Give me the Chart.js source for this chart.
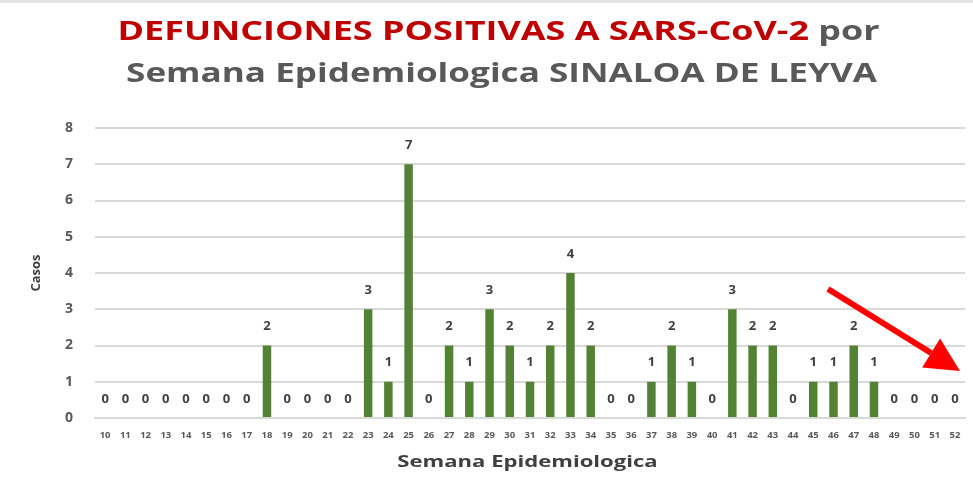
<!DOCTYPE html>
<html>
<head>
<meta charset="utf-8">
<script src="https://cdn.jsdelivr.net/npm/chart.js@4/dist/chart.umd.min.js"></script>
<style>
  html, body { margin: 0; padding: 0; background: #fff; }
  #wrap { position: relative; width: 973px; height: 483px; overflow: hidden; }
  #topline { position: absolute; left: 0; top: 0; width: 973px; height: 3px; background: #e3e3e3; }
  .titulo { position: absolute; width: 973px; text-align: center; font-family: "Open Sans", sans-serif; font-weight: 700; font-size: 27px; color: #595959; white-space: nowrap; transform-origin: 50% 0; }
  #t1 { top: 11px; left: 12px; transform: scaleX(1.33); }
  #t2 { top: 53px; left: 15px; transform: scaleX(1.30); }
  .rojo { color: #c00000; }
  #ejeX { position: absolute; left: 41px; top: 450px; width: 973px; text-align: center; font-family: "Open Sans", sans-serif; font-weight: 700; font-size: 16px; color: #404040; transform: scaleX(1.38); transform-origin: 50% 0; }
  canvas { position: absolute; left: 0; top: 0; }
</style>
</head>
<body>
<div id="wrap">
  <div id="topline"></div>
  <canvas id="casosChart" width="973" height="483"></canvas>
  <div class="titulo" id="t1"><span class="rojo">DEFUNCIONES POSITIVAS A SARS-CoV-2</span> por</div>
  <div class="titulo" id="t2">Semana Epidemiologica SINALOA DE LEYVA</div>
  <div id="ejeX">Semana Epidemiologica</div>
</div>
<script>
// Datos
const semanas = [10, 11, 12, 13, 14, 15, 16, 17, 18, 19, 20, 21, 22, 23, 24, 25, 26, 27, 28, 29, 30,
  31, 32, 33, 34, 35, 36, 37, 38, 39, 40, 41, 42, 43, 44, 45, 46, 47, 48, 49, 50, 51, 52];
const defunciones = [0, 0, 0, 0, 0, 0, 0, 0, 2, 0, 0, 0, 0, 3, 1, 7, 0, 2, 1, 3, 2,
  1, 2, 4, 2, 0, 0, 1, 2, 1, 0, 3, 2, 2, 0, 1, 1, 2, 1, 0, 0, 0, 0];
const ticksY = [0, 1, 2, 3, 4, 5, 6, 7, 8];

// etiquetas de valor encima de cada barra
const etiquetas = {
  id: "etiquetas",
  afterDatasetsDraw(chart) {
    const ctx = chart.ctx;
    const meta = chart.getDatasetMeta(0);
    ctx.save();
    ctx.font = "bold 13px 'Open Sans', sans-serif";
    ctx.fillStyle = "#404040";
    ctx.textAlign = "center";
    ctx.textBaseline = "middle";
    meta.data.forEach((bar, i) => {
      ctx.fillText(String(defunciones[i]), bar.x, bar.y - 19);
    });
    ctx.restore();
  }
};

// flecha roja
const flecha = {
  id: "flecha",
  afterDraw(chart) {
    const ctx = chart.ctx;
    const x1 = 828, y1 = 289, x2 = 960, y2 = 371;
    const ang = Math.atan2(y2 - y1, x2 - x1);
    const head = 34, half = 17;
    const bx = x2 - head * Math.cos(ang), by = y2 - head * Math.sin(ang);
    ctx.save();
    ctx.strokeStyle = "#ff0000";
    ctx.fillStyle = "#ff0000";
    ctx.lineWidth = 6;
    ctx.beginPath();
    ctx.moveTo(x1, y1);
    ctx.lineTo(bx, by);
    ctx.stroke();
    ctx.beginPath();
    ctx.moveTo(x2, y2);
    ctx.lineTo(bx + half * Math.sin(ang), by - half * Math.cos(ang));
    ctx.lineTo(bx - half * Math.sin(ang), by + half * Math.cos(ang));
    ctx.closePath();
    ctx.fill();
    ctx.restore();
  }
};

const ctx = document.getElementById("casosChart").getContext("2d");
new Chart(ctx, {
  type: "bar",
  data: {
    labels: semanas,
    datasets: [{
      label: "Defunciones",
      data: defunciones,
      backgroundColor: "#548235",
      barPercentage: 0.42,
      categoryPercentage: 1.0
    }]
  },
  options: {
    responsive: false,
    animation: false,
    layout: { padding: { top: 128, right: 8, left: 28, bottom: 0 } },
    plugins: {
      legend: { display: false },
      tooltip: { enabled: false }
    },
    scales: {
      x: {
        afterFit: (axis) => { axis.height = 65; },
        grid: { display: false },
        border: { display: true, color: "#d9d9d9", width: 2 },
        ticks: {
          autoSkip: false,
          maxRotation: 0,
          padding: 4,
          color: "#595959",
          font: { family: "'Open Sans', sans-serif", size: 9.5, weight: "bold" }
        }
      },
      y: {
        min: 0,
        max: 8,
        afterFit: (axis) => { axis.width = 67; },
        afterBuildTicks: (axis) => { axis.ticks = ticksY.map(v => ({ value: v })); },
        grid: { color: "#d9d9d9", lineWidth: 2, drawTicks: false },
        border: { display: false },
        ticks: {
          padding: 22,
          color: "#595959",
          font: { family: "'Open Sans', sans-serif", size: 14, weight: "bold" }
        },
        title: {
          display: true,
          text: "Casos",
          color: "#404040",
          padding: { top: 0, bottom: 0 },
          font: { family: "'Open Sans', sans-serif", size: 13, weight: "bold" }
        }
      }
    }
  },
  plugins: [etiquetas, flecha]
});
</script>
</body>
</html>
